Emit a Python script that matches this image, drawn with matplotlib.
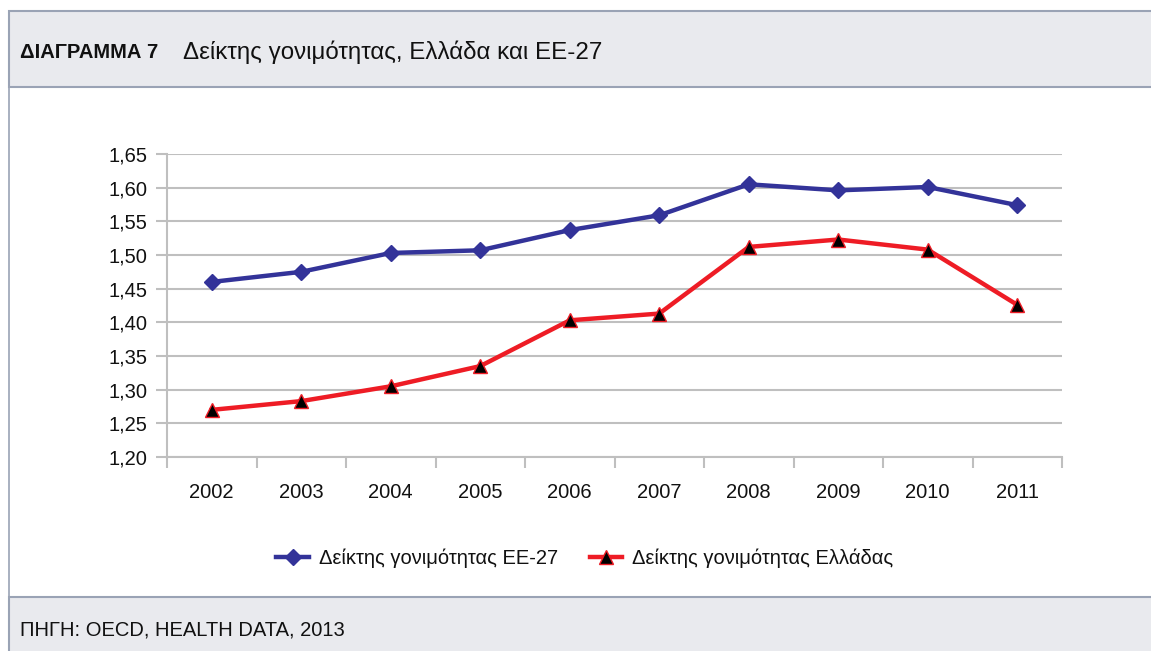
import matplotlib
matplotlib.use("Agg")
import matplotlib.pyplot as plt
from matplotlib.patches import Rectangle
from matplotlib.lines import Line2D
from matplotlib.ticker import FixedLocator, FuncFormatter

plt.rcParams['font.family'] = ['Liberation Sans', 'DejaVu Sans']

years = ['2002', '2003', '2004', '2005', '2006', '2007', '2008', '2009', '2010', '2011']
eu27 = [1.46, 1.475, 1.503, 1.507, 1.537, 1.559, 1.605, 1.596, 1.601, 1.574]
greece = [1.27, 1.283, 1.305, 1.335, 1.403, 1.413, 1.512, 1.523, 1.508, 1.426]
yticks = [1.20, 1.25, 1.30, 1.35, 1.40, 1.45, 1.50, 1.55, 1.60, 1.65]

label_eu = 'Δείκτης γονιμότητας ΕΕ-27'
label_gr = 'Δείκτης γονιμότητας Ελλάδας'
title_bold = 'ΔΙΑΓΡΑΜΜΑ 7'
title_text = 'Δείκτης γονιμότητας, Ελλάδα και ΕΕ-27'
source_text = 'ΠΗΓΗ: OECD, HEALTH DATA, 2013'

W, H = 1151, 651
fig = plt.figure(figsize=(W / 100, H / 100), dpi=100)
fig.patch.set_facecolor('white')

band = '#e9eaee'
edge = '#9aa3b5'

def fx(x):
    return x / W

def fy(y):
    return 1 - y / H

# header band
fig.patches.append(Rectangle((fx(8.5), fy(87)), 1, fy(11) - fy(87), transform=fig.transFigure,
                             facecolor=band, edgecolor=edge, linewidth=1.5, zorder=0))
# footer band
fig.patches.append(Rectangle((fx(8.5), fy(660)), 1, fy(597) - fy(660), transform=fig.transFigure,
                             facecolor=band, edgecolor=edge, linewidth=1.5, zorder=0))
# left border of body
fig.add_artist(Line2D([fx(8.5), fx(8.5)], [fy(87), fy(597)], transform=fig.transFigure,
                      color=edge, linewidth=1.2))

fig.text(fx(20), fy(53), title_bold, fontsize=14.5, fontweight='bold', va='center', ha='left',
         color='#111111')
fig.text(fx(183), fy(52), title_text, fontsize=17.4, va='center', ha='left', color='#111111')
fig.text(fx(20), fy(630), source_text, fontsize=14.5, va='center', ha='left', color='#111111')

ax = fig.add_axes([fx(167), fy(457), fx(1062) - fx(167), fy(154) - fy(457)])
x = list(range(len(years)))

ax.plot(x, eu27, color='#333399', linewidth=3.2, marker='D', markersize=8.5,
        markerfacecolor='#333399', markeredgecolor='#333399', label=label_eu, zorder=3)
ax.plot(x, greece, color='#ee1c25', linewidth=3.2, marker='^', markersize=9.5,
        markerfacecolor='black', markeredgecolor='#ee1c25', markeredgewidth=1.0,
        label=label_gr, zorder=3)

ax.set_xlim(-0.5, len(years) - 0.5)
ax.set_ylim(1.20, 1.65)
ax.yaxis.set_major_locator(FixedLocator(yticks))
ax.yaxis.set_major_formatter(FuncFormatter(lambda v, p: f'{v:.2f}'.replace('.', ',')))
ax.set_xticks(x)
ax.set_xticklabels(years)
ax.xaxis.set_minor_locator(FixedLocator([i - 0.5 for i in range(len(years) + 1)]))
ax.tick_params(axis='x', which='major', length=0, pad=19, labelsize=14.5, colors='#111111')
ax.tick_params(axis='x', which='minor', length=8, width=1.5, color='#bfbfbf', direction='out')
ax.tick_params(axis='y', which='major', length=8, width=1.5, color='#bfbfbf', pad=6,
               labelsize=14.5, labelcolor='#111111')

ax.grid(axis='y', color='#bfbfbf', linewidth=1.5, zorder=0)
ax.set_axisbelow(True)
for s in ['top', 'right']:
    ax.spines[s].set_visible(False)
for s in ['left', 'bottom']:
    ax.spines[s].set_color('#bfbfbf')
    ax.spines[s].set_linewidth(1.5)

leg = fig.legend(loc='center', bbox_to_anchor=(fx(585), fy(558)), ncol=2, frameon=False,
                 fontsize=14.5, handlelength=1.6, columnspacing=1.6, handletextpad=0.5)
for t in leg.get_texts():
    t.set_color('#111111')

fig.savefig('out.png', dpi=100, facecolor='white')
